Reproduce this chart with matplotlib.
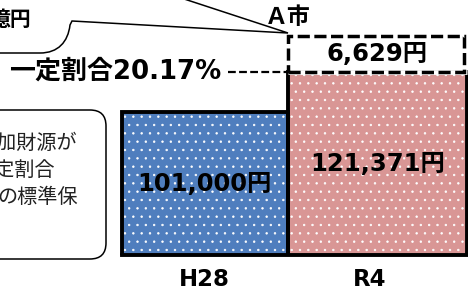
import matplotlib
matplotlib.use("Agg")
import matplotlib.pyplot as plt
from matplotlib.patches import Rectangle, FancyBboxPatch, PathPatch
from matplotlib.path import Path

# wide Latin digits first, CJK from Noto
plt.rcParams['font.family'] = ['DejaVu Sans', 'Noto Sans CJK JP']
plt.rcParams['hatch.linewidth'] = 0.5

# data
years = ['H28', 'R4']
amounts = [101000, 121371]
amount_labels = ['101,000円', '121,371円']
extra_amount = 6629
extra_label = '6,629円'
ratio_label = '一定割合20.17%'
city_label = 'Ａ市'
note_lines = ['増加財源が', '一定割合', 'の標準保']
bubble_text = '億円'

bar_colors = ['#4F7EBE', '#D99695']

fig = plt.figure(figsize=(4.68, 2.93), dpi=100)

# bar axes: bottom edge = bar baseline
ax = fig.add_axes([0, 38 / 293, 1, 255 / 293])
ax.set_xlim(-1.184, 1.525)
ax.set_ylim(28174, 158039)
x = [0, 1]
widths = [0.961, 1.039]

ax.bar(x, amounts, width=widths, color=bar_colors, hatch='..',
       edgecolor='white', linewidth=0, zorder=2)
ax.bar(x, amounts, width=widths, fill=False, edgecolor='black',
       linewidth=2.8, zorder=3)

for xi, v, lbl in zip(x, amounts, amount_labels):
    ax.text(xi, 28174 + (v - 28174) * 0.5, lbl, ha='center', va='center',
            fontsize=17.5, fontweight='bold', zorder=5)

# dashed box for the added part (not to scale in the original)
box_h = 18335
pink_left = x[1] - widths[1] / 2
pink_right = x[1] + widths[1] / 2
ax.plot([pink_left, pink_right], [amounts[1], amounts[1]], color='white',
        lw=3.5, zorder=4, solid_capstyle='butt')
ax.add_patch(Rectangle((pink_left + 0.005, amounts[1]),
                       pink_right - pink_left - 0.02, box_h,
                       fill=False, edgecolor='black', lw=2.5,
                       linestyle=(0, (3.5, 1.3)), zorder=5))
ax.text((pink_left + pink_right) / 2, amounts[1] + box_h / 2,
        extra_label, ha='center', va='center', fontsize=17.5,
        fontweight='bold', zorder=6)

# ratio line and label
ax.plot([0.136, pink_left], [amounts[1], amounts[1]], color='black', lw=1.6,
        linestyle=(0, (3.5, 1.5)), zorder=4)
ax.text(0.098, amounts[1], ratio_label, ha='right', va='center',
        fontsize=18.7, fontweight='bold')

for s in ['top', 'left', 'right']:
    ax.spines[s].set_visible(False)
ax.spines['bottom'].set_linewidth(2.8)
ax.spines['bottom'].set_bounds(-widths[0] / 2, pink_right)
ax.set_yticks([])
ax.set_xticks([0, 0.955])
ax.set_xticklabels(years, fontsize=16.5, fontweight='bold')
ax.tick_params(axis='x', length=0, pad=9)
ax.patch.set_alpha(0)

# overlay in pixel coordinates for callouts
ov = fig.add_axes([0, 0, 1, 1])
ov.set_xlim(0, 468)
ov.set_ylim(293, 0)
ov.axis('off')

bubble = Path([(-5, 53), (40, 53), (58, 53), (68, 42), (70, 25),
               (72, 21), (288, 33), (172, -5)],
              [Path.MOVETO, Path.LINETO, Path.CURVE4, Path.CURVE4,
               Path.CURVE4, Path.LINETO, Path.LINETO, Path.LINETO])
ov.add_patch(PathPatch(bubble, fill=False, lw=1.1, edgecolor='black'))
ov.text(32, 20, bubble_text, ha='right', va='center', fontsize=15,
        fontweight='bold')
ov.text(288, 18, city_label, ha='center', va='center', fontsize=16.5,
        fontweight='bold')
ov.text(468, -7, '一定割合分', ha='right', va='bottom', fontsize=16,
        fontweight='bold')

ov.add_patch(FancyBboxPatch((-30, 110), 136, 149,
                            boxstyle='round,pad=0,rounding_size=16',
                            facecolor='white', edgecolor='black', lw=1.1))
for line, xr, yc in zip(note_lines, [77, 55, 78], [143, 170, 197]):
    ov.text(xr, yc, line, ha='right', va='center', fontsize=14.5,
            color='#222222')

fig.savefig('out.png', dpi=100)
